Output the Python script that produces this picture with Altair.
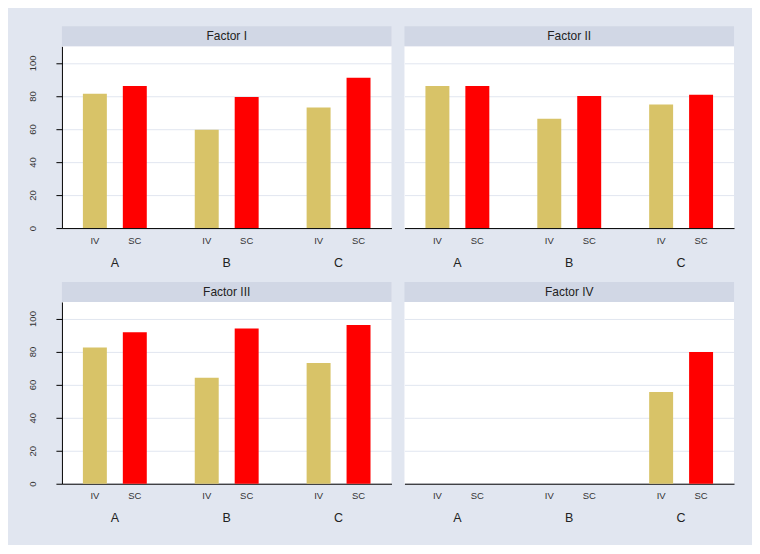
import altair as alt
import pandas as pd

# ---- data ----
groups = ["A", "B", "C"]
types = ["IV", "SC"]
factors = ["I", "II", "III", "IV"]
iv_values = {
    "I": [81.3, 59.5, 73.0],
    "II": [86.0, 66.2, 74.8],
    "III": [82.4, 64.1, 73.1],
    "IV": [None, None, 55.5],
}
sc_values = {
    "I": [86.0, 79.3, 91.0],
    "II": [86.0, 80.0, 80.7],
    "III": [91.6, 94.0, 96.0],
    "IV": [None, None, 79.7],
}
y_ticks = [0, 20, 40, 60, 80, 100]

# ---- styling ----
BG = "#E1E6F0"
STRIP = "#D1D7E5"
GRID = "#E1E6F0"
TAN = "#D8C368"
RED = "#FF0000"
FONT = "Liberation Sans"
W, H = 330, 182

rows = []
for f in factors:
    for gi, g in enumerate(groups):
        for t, vals in (("IV", iv_values[f]), ("SC", sc_values[f])):
            v = vals[gi]
            if v is not None:
                rows.append({"factor": f, "group": g, "type": t, "value": v})
df = pd.DataFrame(rows)
lab_df = pd.DataFrame([{"group": g, "type": t} for g in groups for t in types])
grp_df = pd.DataFrame({"group": groups})


def panel(f, left):
    d = df[df.factor == f]
    xs = alt.Scale(domain=groups, paddingInner=0.054, paddingOuter=0)
    xo = alt.Scale(domain=types, paddingInner=0.4, paddingOuter=0.525)
    xaxis = alt.Axis(labels=False, ticks=False, domain=True, domainColor="black",
                     domainWidth=1, grid=False, title=None, minExtent=0, maxExtent=0)
    if left:
        yaxis = alt.Axis(values=y_ticks, labelAngle=270, labelAlign="center",
                         labelBaseline="bottom", tickSize=6, labelPadding=18,
                         domainColor="black", tickColor="black", grid=True,
                         gridColor=GRID, title=None, labelFontSize=9.5,
                         labelFont=FONT, labelColor="#333333",
                         minExtent=36, maxExtent=36)
    else:
        yaxis = alt.Axis(values=y_ticks, labels=False, ticks=False, domain=False,
                         grid=True, gridColor=GRID, title=None,
                         minExtent=0, maxExtent=0)
    bars = alt.Chart(d).mark_bar().encode(
        x=alt.X("group:N", scale=xs, axis=xaxis),
        xOffset=alt.XOffset("type:N", scale=xo),
        y=alt.Y("value:Q", scale=alt.Scale(domain=[0, 110], nice=False, zero=True), axis=yaxis),
        color=alt.Color("type:N", scale=alt.Scale(domain=types, range=[TAN, RED]), legend=None),
    )
    sub = alt.Chart(lab_df).mark_text(fontSize=9.5, font=FONT, color="#333333").encode(
        x=alt.X("group:N", scale=xs, axis=xaxis),
        xOffset=alt.XOffset("type:N", scale=xo),
        y=alt.value(H + 12.5),
        text="type:N",
    )
    grp = alt.Chart(grp_df).mark_text(fontSize=12.5, font=FONT, color="#222222").encode(
        x=alt.X("group:N", scale=xs, axis=xaxis),
        y=alt.value(H + 34.5),
        text="group:N",
    )
    tdf = pd.DataFrame({"title": [f"Factor {f}"]})
    strip = alt.Chart(tdf).mark_rect(color=STRIP).encode(
        x=alt.value(0), x2=alt.value(W), y=alt.value(-20), y2=alt.value(0)
    )
    ttl = alt.Chart(tdf).mark_text(fontSize=12, font=FONT, color="#222222").encode(
        x=alt.value(W / 2), y=alt.value(-10), text="title:N"
    )
    return alt.layer(strip, bars, sub, grp, ttl).properties(width=W, height=H)


chart = alt.concat(
    panel("I", True), panel("II", False), panel("III", True), panel("IV", False),
    columns=2, spacing={"row": 74, "column": 13}, bounds="flush",
).properties(
    padding={"left": 18, "top": 18, "right": 18, "bottom": 20}
).configure(background=BG).configure_view(stroke=None, fill="white")

chart.save("out.html", embed_options={"renderer": "svg", "actions": False})
